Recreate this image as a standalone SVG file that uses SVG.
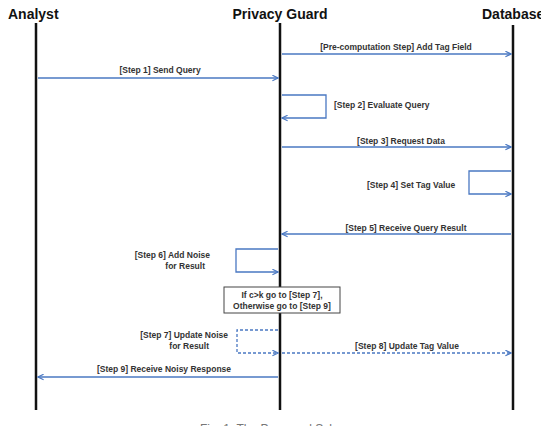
<svg xmlns="http://www.w3.org/2000/svg" width="541" height="426" viewBox="0 0 541 426">
<style>
.title{font-family:"Liberation Sans",Arial,sans-serif;font-weight:bold;font-size:14px;fill:#111}
.lbl{font-family:"Liberation Sans",Arial,sans-serif;font-weight:bold;font-size:8.5px;fill:#333}
.life{stroke:#111;stroke-width:2.5;fill:none}
.msg{stroke:#4a78c2;stroke-width:1.3;fill:none}
.dash{stroke-dasharray:3,2}
.cap{font-family:"Liberation Sans",Arial,sans-serif;font-size:12px;fill:#777}
</style>
<defs>
<marker id="ah" viewBox="0 0 10 10" refX="9" refY="5" markerWidth="7" markerHeight="7" orient="auto" markerUnits="userSpaceOnUse">
<path d="M1,1 L9,5 L1,9" fill="none" stroke="#4a78c2" stroke-width="1.6"/>
</marker>
</defs>
<rect width="541" height="426" fill="#fff"/>
<g id="analyst">
<text class="title" x="8" y="19">Analyst</text>
<line class="life" x1="36" y1="23" x2="36" y2="410"/>
</g>
<g id="privacy-guard">
<text class="title" x="280" y="19" text-anchor="middle">Privacy Guard</text>
<line class="life" x1="280" y1="23" x2="280" y2="410"/>
</g>
<g id="database">
<text class="title" x="482" y="19">Database</text>
<line class="life" x1="513" y1="25" x2="513" y2="410"/>
</g>
<g id="connectors">
<line class="msg" x1="282" y1="54" x2="511" y2="54" marker-end="url(#ah)"/>
<text class="lbl" x="396" y="50" text-anchor="middle">[Pre-computation Step] Add Tag Field</text>
<line class="msg" x1="38" y1="78" x2="278" y2="78" marker-end="url(#ah)"/>
<text class="lbl" x="160" y="73" text-anchor="middle">[Step 1] Send Query</text>
<polyline class="msg" points="282,95 326,95 326,118 282,118" marker-end="url(#ah)"/>
<text class="lbl" x="334" y="108">[Step 2] Evaluate Query</text>
<line class="msg" x1="282" y1="147" x2="511" y2="147" marker-end="url(#ah)"/>
<text class="lbl" x="401" y="144" text-anchor="middle">[Step 3] Request Data</text>
<polyline class="msg" points="511,171 469,171 469,194 511,194" marker-end="url(#ah)"/>
<text class="lbl" x="367" y="188">[Step 4] Set Tag Value</text>
<line class="msg" x1="511" y1="234" x2="282" y2="234" marker-end="url(#ah)"/>
<text class="lbl" x="406" y="231" text-anchor="middle">[Step 5] Receive Query Result</text>
<polyline class="msg" points="278,249 236,249 236,272 278,272" marker-end="url(#ah)"/>
<text class="lbl" x="210" y="258" text-anchor="end">[Step 6] Add Noise</text>
<text class="lbl" x="205" y="269" text-anchor="end">for Result</text>
<polyline class="msg dash" points="278,330 237,330 237,353 278,353" marker-end="url(#ah)"/>
<text class="lbl" x="228" y="338" text-anchor="end">[Step 7] Update Noise</text>
<text class="lbl" x="209" y="349" text-anchor="end">for Result</text>
<line class="msg dash" x1="282" y1="353" x2="511" y2="353" marker-end="url(#ah)"/>
<text class="lbl" x="407" y="349" text-anchor="middle">[Step 8] Update Tag Value</text>
<line class="msg" x1="278" y1="377" x2="38" y2="377" marker-end="url(#ah)"/>
<text class="lbl" x="164" y="372" text-anchor="middle">[Step 9] Receive Noisy Response</text>
</g>
<g id="condition">
<rect x="224" y="287" width="116" height="26" fill="#fff" stroke="#444" stroke-width="1"/>
<text class="lbl" x="282" y="298" text-anchor="middle">If c&gt;k go to [Step 7],</text>
<text class="lbl" x="282" y="309" text-anchor="middle">Otherwise go to [Step 9]</text>
</g>
<text class="cap" x="200" y="433">Fig. 1. The Proposed Scheme</text>
</svg>
